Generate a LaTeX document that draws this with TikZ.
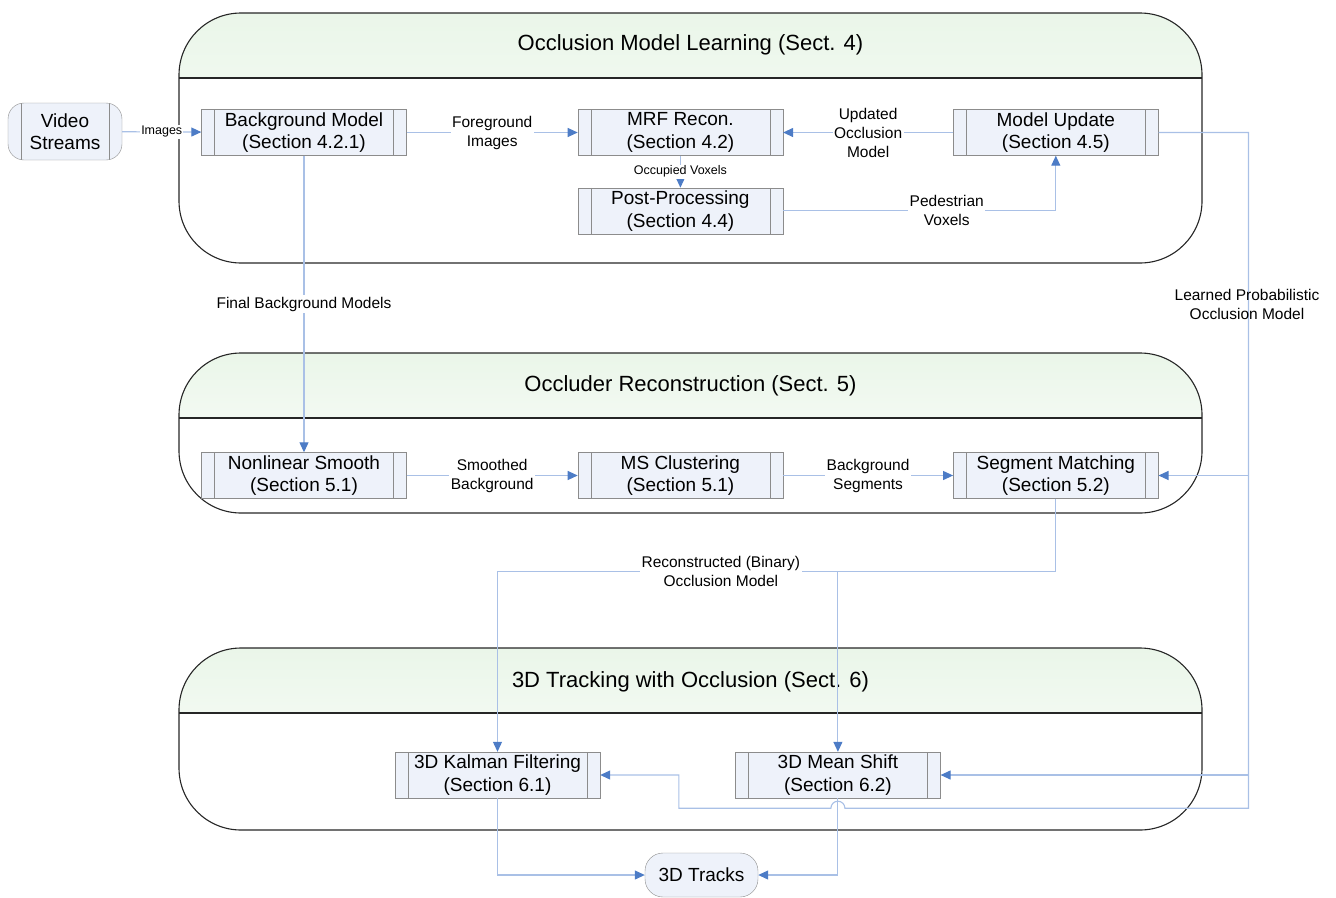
\documentclass[tikz,border=0pt]{standalone}
\usepackage{fontspec}
\setmainfont{Liberation Sans}
\usetikzlibrary{arrows.meta,positioning,calc}
\definecolor{pfill}{HTML}{EEF2FA}
\definecolor{pedge}{HTML}{8C8C8C}
\definecolor{wblue}{HTML}{A9C0E6}
\definecolor{tblue}{HTML}{4D7CC6}
\definecolor{hgreen}{HTML}{EAF6E9}

\begin{document}
\begin{tikzpicture}[x=1pt,y=-1pt,every node/.style={align=center},
  stage/.style={draw=black!85,line width=1.1pt,rounded corners=62pt,minimum width=1023pt,
    path picture={\shade[sharp corners,top color=hgreen,bottom color=white] (path picture bounding box.north west) rectangle ([yshift=-65pt]path picture bounding box.north east);
      \draw[sharp corners,black!85,line width=1.1pt] ([yshift=-65pt]path picture bounding box.north west) -- ([yshift=-65pt]path picture bounding box.north east);}},
  title/.style={font=\fontsize{22}{26}\selectfont},
  bars/.style={path picture={\draw[pedge] ([xshift=13pt]path picture bounding box.north west) -- ([xshift=13pt]path picture bounding box.south west);
      \draw[pedge] ([xshift=-13pt]path picture bounding box.north east) -- ([xshift=-13pt]path picture bounding box.south east);}},
  pbox/.style={bars,draw=pedge,fill=pfill,minimum width=205pt,minimum height=46pt,inner sep=1pt,font=\fontsize{19}{22.5}\selectfont},
  term/.style={draw=pedge,fill=pfill,rounded corners=16pt,inner sep=1pt,font=\fontsize{19}{22.5}\selectfont},
  lbl/.style={fill=white,text=black,inner sep=1.5pt,font=\fontsize{15.5}{19}\selectfont},
  tinylbl/.style={lbl,inner sep=1pt,font=\fontsize{12.5}{14}\selectfont},
  wire/.style={wblue,line width=1.1pt},
  flow/.style={wire,-{Triangle[length=10pt,width=9pt,color=tblue]}}]
\useasboundingbox (0,0) rectangle (1336,897);

% the three stages
\node[stage,minimum height=250pt] (learn) at (690.5,138) {};
\node[stage,minimum height=160pt] (recon) at (690.5,433) {};
\node[stage,minimum height=182pt] (track) at (690.5,739) {};
\node[title] (learnT) at (690.5,45) {Occlusion Model Learning (Sect. 4)};
\node[title] (reconT) at (690.5,386) {Occluder Reconstruction (Sect. 5)};
\node[title] (trackT) at (690.5,682) {3D Tracking with Occlusion (Sect. 6)};

% processes
\node[term,bars,minimum width=114pt,minimum height=57pt] (video) at (65,131.5) {Video\\Streams};
\node[pbox] (bgm) at (304,132.5) {Background Model\\(Section 4.2.1)};
\node[pbox,right=171pt of bgm] (mrf) {MRF Recon.\\(Section 4.2)};
\node[pbox,right=170pt of mrf] (upd) {Model Update\\(Section 4.5)};
\node[pbox,below=32pt of mrf] (post) {Post-Processing\\(Section 4.4)};
\node[pbox] (smooth) at (304,475.5) {Nonlinear Smooth\\(Section 5.1)};
\node[pbox,right=171pt of smooth] (msc) {MS Clustering\\(Section 5.1)};
\node[pbox,right=170pt of msc] (seg) {Segment Matching\\(Section 5.2)};
\node[pbox] (kal) at (497.5,775) {3D Kalman Filtering\\(Section 6.1)};
\node[pbox,right=135pt of kal] (mshift) {3D Mean Shift\\(Section 6.2)};
\node[term,rounded corners=18pt,minimum width=113pt,minimum height=44pt] (tracks) at (701.5,875) {3D Tracks};

% learning loop
\draw[flow] (video) -- node[tinylbl]{Images} (bgm);
\draw[flow] (bgm) -- node[lbl]{Foreground\\Images} (mrf);
\draw[flow] (upd) -- node[lbl]{Updated\\Occlusion\\Model} (mrf);
\draw[flow] (mrf) -- node[tinylbl]{Occupied Voxels} (post);
\draw[flow] (post.east) -| node[lbl,pos=0.3]{Pedestrian\\Voxels} (upd.south);

% reconstruction
\draw[flow] (bgm) -- node[lbl]{Final Background Models} (smooth);
\draw[flow] (smooth) -- node[lbl]{Smoothed\\Background} (msc);
\draw[flow] (msc) -- node[lbl]{Background\\Segments} (seg);

% learned model rail, hops over the mean shift output
\coordinate (rail) at ($(upd.east)+(90,0)$);
\coordinate (low) at ($(mshift.south)+(0,10)$);
\coordinate (turn) at ($(low)+(-159,0)$);
\draw[flow] (upd.east) -- (rail) -- (rail |- low) -- ($(low)+(7,0)$)
  arc[start angle=0,end angle=180,radius=7pt] -- (turn) |- (kal.east);
\draw[flow] (rail |- seg.east) -- (seg.east);
\draw[flow] (rail |- mshift.east) -- (mshift.east);
\node[lbl,fill=none] (lpom) at (1247,304) {Learned Probabilistic\\Occlusion Model};

% binary model to trackers
\coordinate (split) at ($(seg.south)+(0,73)$);
\draw[flow] (seg.south) -- (split) -- node[lbl,pos=0.6]{Reconstructed (Binary)\\Occlusion Model} (split -| kal.north) -- (kal.north);
\draw[flow] (split -| mshift.north) -- (mshift.north);

% outputs
\draw[flow] (kal.south) |- (tracks.west);
\draw[flow] (mshift.south) |- (tracks.east);
\end{tikzpicture}
\end{document}
